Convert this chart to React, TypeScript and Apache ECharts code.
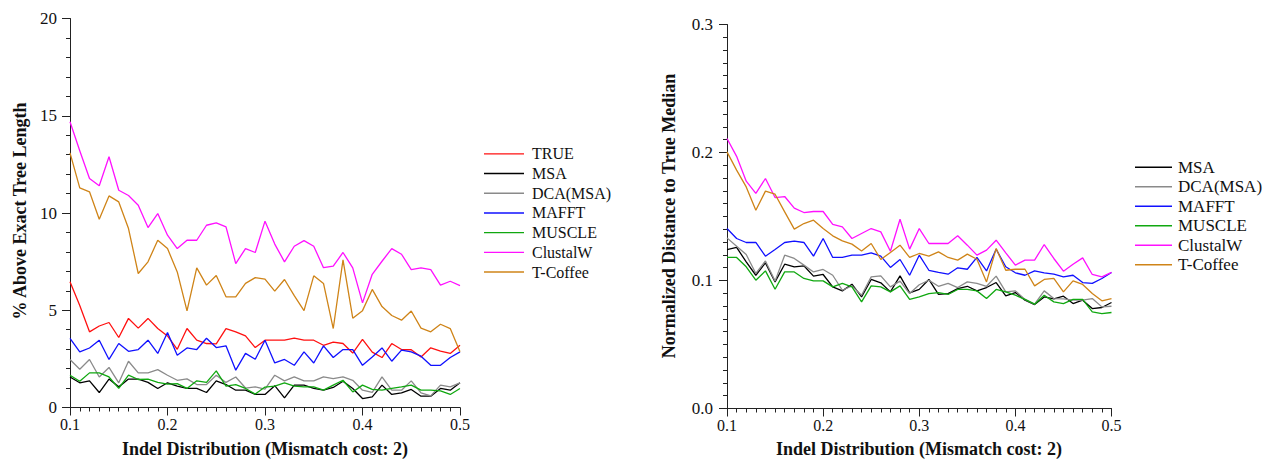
import React, { useEffect, useRef } from "react";
import * as echarts from "echarts";

const xValues = [
  0.1, 0.11, 0.12, 0.13, 0.14, 0.15, 0.16, 0.17, 0.18, 0.19,
  0.2, 0.21, 0.22, 0.23, 0.24, 0.25, 0.26, 0.27, 0.28, 0.29,
  0.3, 0.31, 0.32, 0.33, 0.34, 0.35, 0.36, 0.37, 0.38, 0.39,
  0.4, 0.41, 0.42, 0.43, 0.44, 0.45, 0.46, 0.47, 0.48, 0.49, 0.5,
];

// Left panel: % Above Exact Tree Length
const leftTRUE = [6.46, 5.24, 3.89, 4.19, 4.37, 3.6, 4.58, 4.08, 4.58, 4.06, 3.68, 2.99, 4.06, 3.46, 3.29, 3.27, 4.06, 3.89, 3.68, 3.08, 3.46, 3.46, 3.46, 3.57, 3.46, 3.46, 3.2, 3.36, 3.29, 2.8, 3.5, 2.85, 2.57, 3.29, 2.98, 2.97, 2.6, 3.07, 2.9, 2.78, 3.2];
const leftMSA = [1.57, 1.27, 1.37, 0.77, 1.46, 1.06, 1.46, 1.46, 1.29, 0.98, 1.27, 1.1, 0.98, 0.98, 0.77, 1.37, 1.18, 0.89, 0.89, 0.67, 0.67, 1.12, 0.49, 1.15, 1.15, 0.98, 0.89, 1.03, 1.35, 0.98, 0.46, 0.55, 1.15, 0.67, 0.75, 0.93, 0.58, 0.58, 0.98, 0.89, 1.27];
const leftDCA = [2.47, 1.97, 2.47, 1.57, 2.06, 1.27, 2.38, 1.78, 1.78, 1.95, 1.66, 1.4, 1.47, 1.18, 1.18, 1.66, 1.29, 1.57, 1.0, 1.06, 0.95, 1.66, 1.37, 1.57, 1.37, 1.37, 1.57, 1.49, 1.57, 1.4, 0.89, 0.78, 1.57, 0.89, 0.89, 1.37, 0.75, 0.6, 1.15, 1.06, 1.27];
const leftMAFFT = [3.55, 2.86, 3.06, 3.46, 2.47, 3.29, 2.89, 2.98, 3.46, 2.78, 3.86, 2.69, 3.06, 2.98, 3.56, 3.08, 3.17, 1.92, 2.78, 2.48, 3.46, 2.29, 2.47, 2.17, 2.86, 2.29, 3.17, 2.57, 2.98, 2.98, 2.17, 2.6, 3.06, 2.38, 2.95, 2.86, 2.64, 2.17, 2.17, 2.57, 2.86];
const leftMUSCLE = [1.66, 1.35, 1.78, 1.78, 1.57, 0.98, 1.66, 1.44, 1.46, 1.29, 1.2, 1.23, 0.98, 1.37, 1.29, 1.88, 1.1, 1.18, 0.98, 0.69, 1.05, 1.1, 1.27, 1.1, 1.06, 1.06, 0.89, 1.15, 1.4, 0.8, 1.15, 0.93, 0.89, 0.98, 1.06, 1.15, 0.89, 0.89, 0.85, 0.67, 0.98];
const leftClustalW = [14.69, 13.2, 11.77, 11.4, 12.89, 11.17, 10.9, 10.4, 9.25, 9.97, 8.86, 8.17, 8.6, 8.6, 9.37, 9.49, 9.29, 7.4, 8.17, 7.97, 9.58, 8.4, 7.49, 8.29, 8.58, 8.29, 7.19, 7.27, 7.97, 7.18, 5.38, 6.85, 7.52, 8.17, 7.88, 7.09, 7.18, 7.09, 6.29, 6.49, 6.27];
const leftTCoffee = [13.09, 11.29, 11.09, 9.68, 10.88, 10.57, 9.2, 6.89, 7.49, 8.6, 8.17, 6.97, 4.97, 7.18, 6.29, 6.79, 5.69, 5.69, 6.38, 6.68, 6.6, 5.98, 6.58, 5.75, 4.98, 6.77, 6.38, 4.06, 7.59, 4.59, 4.98, 6.07, 5.19, 4.73, 4.49, 4.96, 4.08, 3.89, 4.28, 4.06, 2.86];

// Right panel: Normalized Distance to True Median
const rightMSA = [0.1242, 0.1258, 0.1146, 0.1041, 0.1138, 0.0989, 0.1127, 0.1107, 0.1115, 0.1034, 0.1047, 0.095, 0.0919, 0.0971, 0.0872, 0.1008, 0.0982, 0.0911, 0.1036, 0.0903, 0.0931, 0.1008, 0.0891, 0.0898, 0.0937, 0.0955, 0.0919, 0.0945, 0.0984, 0.088, 0.0906, 0.0846, 0.0812, 0.0872, 0.0857, 0.0877, 0.082, 0.0846, 0.0781, 0.0789, 0.0828];
const rightDCA = [0.1333, 0.1268, 0.1203, 0.1055, 0.1153, 0.0995, 0.1198, 0.1172, 0.112, 0.1067, 0.1086, 0.1041, 0.0924, 0.0958, 0.0885, 0.1028, 0.1036, 0.095, 0.0995, 0.0898, 0.0967, 0.1002, 0.0955, 0.0977, 0.0945, 0.0989, 0.0977, 0.0955, 0.1034, 0.0911, 0.0919, 0.0852, 0.0815, 0.0919, 0.0859, 0.0857, 0.0846, 0.0846, 0.0859, 0.0794, 0.0799];
const rightMAFFT = [0.1406, 0.1328, 0.1297, 0.1297, 0.119, 0.1242, 0.1297, 0.1307, 0.1297, 0.119, 0.1328, 0.118, 0.118, 0.1198, 0.1198, 0.1216, 0.119, 0.1102, 0.1164, 0.1041, 0.1198, 0.108, 0.1063, 0.1049, 0.1099, 0.1088, 0.118, 0.1075, 0.1245, 0.1107, 0.106, 0.1041, 0.1075, 0.106, 0.1049, 0.1028, 0.1041, 0.0984, 0.0977, 0.1016, 0.1063];
const rightMUSCLE = [0.118, 0.118, 0.1107, 0.1002, 0.1075, 0.0932, 0.1067, 0.1067, 0.1016, 0.0997, 0.0997, 0.095, 0.0977, 0.095, 0.0833, 0.0958, 0.095, 0.0911, 0.0958, 0.0852, 0.0872, 0.0898, 0.0906, 0.0891, 0.093, 0.093, 0.0919, 0.0859, 0.093, 0.0911, 0.0885, 0.0852, 0.0815, 0.0885, 0.0833, 0.082, 0.0852, 0.0852, 0.0755, 0.0742, 0.075];
const rightClustalW = [0.2109, 0.197, 0.1776, 0.168, 0.1797, 0.1648, 0.1656, 0.1565, 0.1531, 0.1539, 0.1539, 0.1438, 0.1419, 0.1328, 0.1367, 0.1406, 0.138, 0.1229, 0.1479, 0.1245, 0.1406, 0.1289, 0.1289, 0.1289, 0.1349, 0.1276, 0.1198, 0.1237, 0.1315, 0.1216, 0.112, 0.1159, 0.1159, 0.1281, 0.1172, 0.1073, 0.1127, 0.1177, 0.1047, 0.1028, 0.1063];
const rightTCoffee = [0.2005, 0.1862, 0.1731, 0.1549, 0.1698, 0.1674, 0.1536, 0.1401, 0.1445, 0.1471, 0.1406, 0.1349, 0.131, 0.1284, 0.1231, 0.1289, 0.1164, 0.1219, 0.1276, 0.118, 0.1211, 0.119, 0.1224, 0.118, 0.1159, 0.1206, 0.1166, 0.0989, 0.125, 0.108, 0.1088, 0.1088, 0.0958, 0.1008, 0.1016, 0.0911, 0.0997, 0.0969, 0.0898, 0.0841, 0.0859];

const leftNames = ["TRUE", "MSA", "DCA(MSA)", "MAFFT", "MUSCLE", "ClustalW", "T-Coffee"];
const rightNames = ["MSA", "DCA(MSA)", "MAFFT", "MUSCLE", "ClustalW", "T-Coffee"];

const leftTitleY = "% Above Exact Tree Length";
const rightTitleY = "Normalized Distance to True Median";
const titleX = "Indel Distribution (Mismatch cost: 2)";

const colors: Record<string, string> = {
  TRUE: "#ff1010",
  MSA: "#000000",
  "DCA(MSA)": "#8a8a8a",
  MAFFT: "#1010ff",
  MUSCLE: "#10a810",
  ClustalW: "#ff10ff",
  "T-Coffee": "#cf8418",
};

const FONT = "Liberation Serif";

function makeAxisX(gridIndex: number) {
  return {
    type: "value",
    gridIndex,
    min: 0.1,
    max: 0.5,
    interval: 0.1,
    axisLine: { show: true, onZero: false, lineStyle: { color: "#222", width: 1 } },
    axisTick: { show: true, length: 8, lineStyle: { color: "#222" } },
    minorTick: { show: true, splitNumber: 10, length: 4, lineStyle: { color: "#222" } },
    splitLine: { show: false },
    axisLabel: {
      margin: 9,
      color: "#111",
      fontFamily: FONT,
      fontSize: 16,
      formatter: (v: number) => v.toFixed(1),
    },
  };
}

function makeAxisY(gridIndex: number, max: number, interval: number, minorSplit: number, digits: number, margin: number) {
  return {
    type: "value",
    gridIndex,
    min: 0,
    max,
    interval,
    axisLine: { show: true, lineStyle: { color: "#222", width: 1 } },
    axisTick: { show: true, length: 8, lineStyle: { color: "#222" } },
    minorTick: { show: true, splitNumber: minorSplit, length: 4, lineStyle: { color: "#222" } },
    splitLine: { show: false },
    axisLabel: {
      margin,
      color: "#111",
      fontFamily: FONT,
      fontSize: 17,
      formatter: (v: number) => v.toFixed(digits),
    },
  };
}

function lineSeries(name: string, values: number[], idx: number) {
  return {
    type: "line",
    name,
    xAxisIndex: idx,
    yAxisIndex: idx,
    data: xValues.map((x, i) => [x, values[i]]),
    symbol: "none",
    showSymbol: false,
    lineStyle: { color: colors[name], width: 1.3 },
    itemStyle: { color: colors[name] },
    emphasis: { disabled: true },
  };
}

export default function App() {
  const ref = useRef<HTMLDivElement>(null);
  useEffect(() => {
    if (!ref.current) return;
    const chart = echarts.init(ref.current, undefined, { renderer: "svg" });
    const leftData = [leftTRUE, leftMSA, leftDCA, leftMAFFT, leftMUSCLE, leftClustalW, leftTCoffee];
    const rightData = [rightMSA, rightDCA, rightMAFFT, rightMUSCLE, rightClustalW, rightTCoffee];
    const titleStyle = { fontFamily: FONT, fontSize: 18, fontWeight: "bold", fill: "#111", align: "center", verticalAlign: "middle" };
    chart.setOption({
      animation: false,
      backgroundColor: "#ffffff",
      grid: [
        { left: 70, top: 18.5, width: 390, height: 389 },
        { left: 727, top: 24.5, width: 384.5, height: 384 },
      ],
      xAxis: [makeAxisX(0), makeAxisX(1)],
      yAxis: [makeAxisY(0, 20, 5, 5, 0, 13), makeAxisY(1, 0.3, 0.1, 10, 1, 14)],
      legend: [
        {
          data: leftNames,
          orient: "vertical",
          left: 484,
          top: 144,
          padding: 0,
          itemGap: 0,
          itemWidth: 40,
          itemHeight: 1.4,
          icon: "rect",
          textStyle: { fontFamily: FONT, fontSize: 16, color: "#111", lineHeight: 19.7, padding: [0, 0, 0, 3] },
          selectedMode: false,
        },
        {
          data: rightNames,
          orient: "vertical",
          left: 1135,
          top: 157.5,
          padding: 0,
          itemGap: 0,
          itemWidth: 37,
          itemHeight: 1.6,
          icon: "rect",
          textStyle: { fontFamily: FONT, fontSize: 17, color: "#111", lineHeight: 19.5, padding: [0, 0, 0, 1] },
          selectedMode: false,
        },
      ],
      graphic: [
        { type: "text", x: 20, y: 211, rotation: Math.PI / 2, style: { text: leftTitleY, ...titleStyle } },
        { type: "text", x: 669, y: 216, rotation: Math.PI / 2, style: { text: rightTitleY, ...titleStyle } },
        { type: "text", x: 265, y: 449, style: { text: titleX, ...titleStyle } },
        { type: "text", x: 919, y: 449, style: { text: titleX, ...titleStyle } },
      ],
      series: [
        ...leftNames.map((n, i) => lineSeries(n, leftData[i], 0)),
        ...rightNames.map((n, i) => lineSeries(n, rightData[i], 1)),
      ],
    });
    return () => chart.dispose();
  }, []);
  return (
    <div
      ref={ref}
      style={{ position: "absolute", left: 0, top: 0, width: 1272, height: 460, background: "#fff" }}
    />
  );
}
